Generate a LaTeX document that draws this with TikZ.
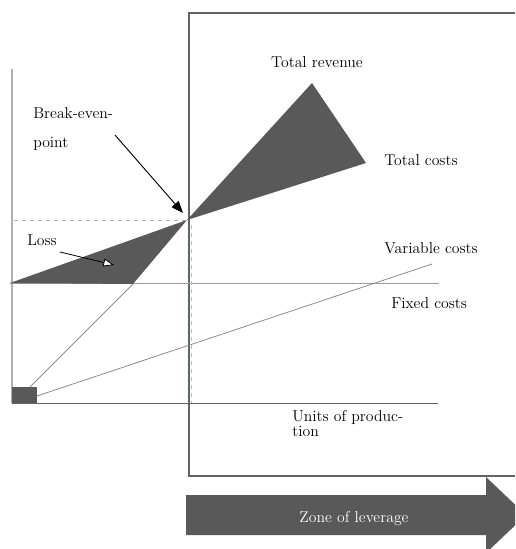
\documentclass[tikz,border=0pt]{standalone}
\usetikzlibrary{arrows.meta}
\usetikzlibrary{positioning}
\definecolor{darkfill}{HTML}{595959}
\definecolor{framegray}{HTML}{636363}
\definecolor{axisgray}{HTML}{B0B0B0}
\definecolor{linegray}{HTML}{8C8C8C}
\definecolor{dashblue}{HTML}{9DC3E6}

\tikzset{
  label/.style={font=\fontsize{11.8}{13}\selectfont, inner sep=0pt},
  thinline/.style={draw=linegray, line width=0.6pt},
}

\begin{document}
\begin{tikzpicture}[x=0.75pt, y=-0.75pt, >=Stealth]

\useasboundingbox (0,0) rectangle (515,549);
\clip (0,0) rectangle (515,549);

% points of the chart
\coordinate (origin) at (12,403);
\coordinate (ytop) at (12,69);
\coordinate (xend) at (438,403);
\coordinate (fix-start) at (10,283);
\coordinate (fix-end) at (439,283);
\coordinate (bep) at (187,220);
\coordinate (rev-top) at (312,83);
\coordinate (cost-end) at (366,163);
\coordinate (loss-low) at (133,284);
\coordinate (var-end) at (432,264);

% frame of the zone
\draw [framegray, line width=1.2pt] (515,13) -- (189,13) -- (189,476) -- (515,476);

% axes and cost lines
\draw [axisgray, line width=0.9pt] (ytop) -- (origin);
\draw [framegray, line width=0.7pt] (origin) -- (xend);
\draw [draw=linegray!85, line width=0.7pt] (fix-start) -- (fix-end);
\draw [thinline] (30,387) -- (loss-low);
\draw [thinline] (37,396) -- (var-end);

\fill [darkfill] (12,387) rectangle (37,403);

% loss and profit areas
\fill [darkfill] (fix-start) -- (bep) -- (loss-low) -- cycle;
\fill [darkfill] (bep) -- (rev-top) -- (cost-end) -- cycle;

% guide lines through the break-even point
\draw [axisgray, dashed, line width=0.7pt] (14,220) -- (bep);
\draw [dashblue, dashed, line width=0.7pt] (191,225) -- (191,403);

% labels
\node [label, anchor=base west, align=left, font=\fontsize{11.8}{21}\selectfont] (brk) at (33,147) {Break-even-\\point};
\node [label, anchor=base west] (loss) at (27,245) {Loss};
\node [label, anchor=base] (rev) at (317,68) {Total revenue};
\node [label, anchor=base west] (cost) at (384,166) {Total costs};
\node [label, anchor=base west] (var) at (384,253) {Variable costs};
\node [label, anchor=base west] (fix) at (391,308) {Fixed costs};
\node [label, anchor=base west, align=left, font=\fontsize{11.8}{9.8}\selectfont] (units) at (292,436) {Units of produc-\\tion};

% pointers
\coordinate (brk-tail) at (115,135);
\coordinate (brk-head) at (183,213);
\coordinate (loss-tail) at (60,252);
\coordinate (loss-head) at (114,265);
\draw [-{Triangle[length=9pt, width=7pt]}, line width=0.7pt] (brk-tail) -- (brk-head);
\draw [-{Triangle[length=8pt, width=6pt, fill=white]}, line width=0.6pt] (loss-tail) -- (loss-head);

% zone of leverage
\fill [darkfill] (186,495) -- (486,495) -- (486,477) -- (526,515) -- (486,553) -- (486,535) -- (186,535) -- cycle;
\node [label, anchor=base, text=white] (zone) at (354,522) {Zone of leverage};

\end{tikzpicture}
\end{document}
